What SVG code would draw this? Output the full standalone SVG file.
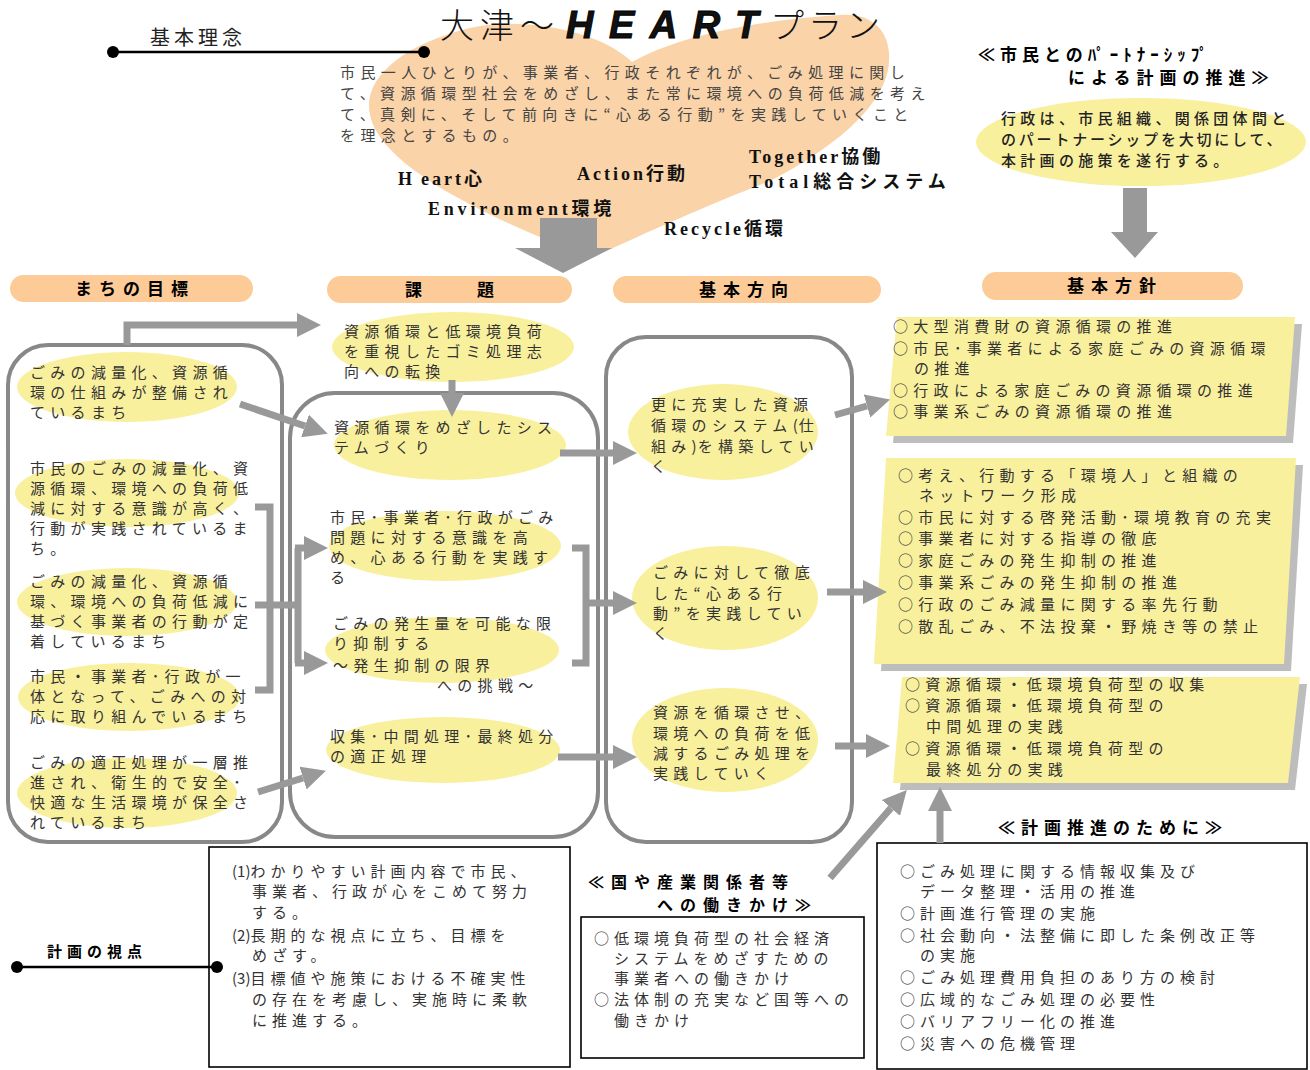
<svg xmlns="http://www.w3.org/2000/svg" width="1310" height="1070" viewBox="0 0 1310 1070">
<defs>
<marker id="ah" markerUnits="userSpaceOnUse" markerWidth="24" markerHeight="24" viewBox="0 0 24 24" refX="0" refY="12" orient="auto">
<path d="M0,0 L24,12 L0,24 Z" fill="#999"/>
</marker>
<style>
.t{font-family:'Noto Sans CJK JP',sans-serif;font-size:15px;letter-spacing:5.3px;fill:#333}
.s{font-family:'Noto Sans CJK JP',sans-serif;font-size:15px;letter-spacing:5px;fill:#333}
.b{font-family:'Noto Sans CJK JP',sans-serif;font-weight:700;font-size:17px;letter-spacing:6px;fill:#000}
.w{font-family:'Liberation Serif','Noto Sans CJK JP',serif;font-size:18px;font-weight:700;letter-spacing:3px;fill:#111}
.pill{fill:#FCCB98}
.ell{fill:#F9F09E}
.frame{fill:none;stroke:#888;stroke-width:4}
.c{fill:none;stroke:#999;stroke-width:7}
.ca{fill:none;stroke:#999;stroke-width:7;marker-end:url(#ah)}
.sh{fill:#BDBDBD}
.yb{fill:#F9F09E}
.box{fill:#fff;stroke:#000;stroke-width:1.6}
.ln{stroke:#000;stroke-width:2.5}
.blk{fill:#999}
.n{letter-spacing:1px}
</style>
</defs>
<rect width="1310" height="1070" fill="#fff"/>

<g id="heart">
<path d="M632,62 C600,30 520,16 470,28 C400,45 362,80 370,115 C380,165 480,215 592,258 C640,235 720,200 770,181 C830,150 880,110 888,70 C895,30 870,12 840,15 C760,20 680,35 632,62 Z" fill="#FAD3A8"/>
<text y="38" fill="#111"><tspan x="440" font-family="'Noto Sans CJK JP',sans-serif" font-size="34" font-weight="300" letter-spacing="6">大津～</tspan><tspan x="566" font-family="'Liberation Sans',sans-serif" font-size="38" font-weight="700" font-style="italic" letter-spacing="15.5" stroke="#000" stroke-width="1">HEART</tspan><tspan x="770" font-family="'Noto Sans CJK JP',sans-serif" font-size="34" font-weight="300" letter-spacing="4">プラン</tspan></text>
<text class="t" x="340" y="78" style="letter-spacing:5.4px;fill:#444">市民一人ひとりが、事業者、行政それぞれが、ごみ処理に関し</text>
<text class="t" x="340" y="99" style="letter-spacing:5.4px;fill:#444">て、資源循環型社会をめざし、また常に環境への負荷低減を考え</text>
<text class="t" x="340" y="120" style="letter-spacing:5.4px;fill:#444">て、真剣に、そして前向きに“心ある行動”を実践していくこと</text>
<text class="t" x="340" y="141" style="letter-spacing:5.4px;fill:#444">を理念とするもの。</text>
<text class="w" x="398" y="185"><tspan>H</tspan><tspan dx="6">eart心</tspan></text>
<text class="w" x="577" y="180">Action行動</text>
<text class="w" x="749" y="163">Together協働</text>
<text class="w" x="749" y="188" style="letter-spacing:5px">Total総合システム</text>
<text class="w" x="428" y="215" style="letter-spacing:3.8px">Environment環境</text>
<text class="w" x="664" y="235">Recycle循環</text>
<polygon class="blk" points="540,218 597,218 597,248 612,248 563,273 515,248 540,248"/>
</g>

<g id="kihon-rinen">
<text x="150" y="45" font-family="'Noto Sans CJK JP',sans-serif" font-size="20" letter-spacing="4" fill="#222">基本理念</text>
<line class="ln" x1="113" y1="52" x2="424" y2="52"/>
<circle cx="113" cy="52" r="6"/>
<circle cx="424" cy="52" r="6"/>
</g>

<g id="partnership">
<text class="b" x="978" y="61" style="font-size:17px;letter-spacing:5px">≪市民とのﾊﾟｰﾄﾅｰｼｯﾌﾟ</text>
<text class="b" x="1068" y="84" style="font-size:17px;letter-spacing:6px">による計画の推進≫</text>
<ellipse class="ell" cx="1141" cy="142" rx="165" ry="44"/>
<text class="t" x="1001" y="124" style="letter-spacing:4.3px;font-weight:500;fill:#222">行政は、市民組織、関係団体間と</text>
<text class="t" x="1001" y="145" style="letter-spacing:2.8px;font-weight:500;fill:#222">のパートナーシップを大切にして、</text>
<text class="t" x="1001" y="166" style="letter-spacing:4.3px;font-weight:500;fill:#222">本計画の施策を遂行する。</text>
<polygon class="blk" points="1123,188 1147,188 1147,232 1158,232 1135,258 1111,232 1123,232"/>
</g>

<g id="header-goal"><rect class="pill" x="10" y="275" width="243" height="27" rx="13.5"/><text class="b" x="75" y="295" style="letter-spacing:7px">まちの目標</text></g>
<g id="header-issue"><rect class="pill" x="327" y="276" width="245" height="27" rx="13.5"/><text class="b" x="405" y="296" style="letter-spacing:7px">課　　題</text></g>
<g id="header-direction"><rect class="pill" x="613" y="276" width="268" height="27" rx="13.5"/><text class="b" x="699" y="296" style="letter-spacing:7px">基本方向</text></g>
<g id="header-policy"><rect class="pill" x="982" y="272" width="261" height="28" rx="14"/><text class="b" x="1067" y="292" style="letter-spacing:7px">基本方針</text></g>

<g id="col-goal">
<rect class="frame" x="8" y="345" width="274" height="497" rx="40"/>
<ellipse class="ell" cx="127" cy="387" rx="110" ry="35"/>
<text class="t" x="30" y="378">ごみの減量化、資源循</text>
<text class="t" x="30" y="398">環の仕組みが整備され</text>
<text class="t" x="30" y="418">ているまち</text>
<ellipse class="ell" cx="127" cy="493" rx="112" ry="34"/>
<text class="t" x="30" y="474">市民のごみの減量化、資</text>
<text class="t" x="30" y="494">源循環、環境への負荷低</text>
<text class="t" x="30" y="514">減に対する意識が高く、</text>
<text class="t" x="30" y="534">行動が実践されているま</text>
<text class="t" x="30" y="554">ち。</text>
<ellipse class="ell" cx="127" cy="602" rx="110" ry="34"/>
<text class="t" x="30" y="587">ごみの減量化、資源循</text>
<text class="t" x="30" y="607">環、環境への負荷低減に</text>
<text class="t" x="30" y="627">基づく事業者の行動が定</text>
<text class="t" x="30" y="647">着しているまち</text>
<ellipse class="ell" cx="129" cy="697" rx="111" ry="34"/>
<text class="t" x="30" y="682">市民・事業者･行政が一</text>
<text class="t" x="30" y="702">体となって、ごみへの対</text>
<text class="t" x="30" y="722">応に取り組んでいるまち</text>
<ellipse class="ell" cx="127" cy="793" rx="110" ry="35"/>
<text class="t" x="30" y="768">ごみの適正処理が一層推</text>
<text class="t" x="30" y="788">進され、衛生的で安全･</text>
<text class="t" x="30" y="808">快適な生活環境が保全さ</text>
<text class="t" x="30" y="828">れているまち</text>
</g>

<g id="col-issue">
<ellipse class="ell" cx="453" cy="347" rx="121" ry="35"/>
<text class="t" x="344" y="337">資源循環と低環境負荷</text>
<text class="t" x="344" y="357">を重視したゴミ処理志</text>
<text class="t" x="344" y="377">向への転換</text>
<rect class="frame" x="290" y="393" width="308" height="444" rx="45"/>
<ellipse class="ell" cx="450" cy="445" rx="116" ry="35"/>
<text class="t" x="334" y="433">資源循環をめざしたシス</text>
<text class="t" x="334" y="453">テムづくり</text>
<ellipse class="ell" cx="445" cy="546" rx="116" ry="35"/>
<text class="t" x="330" y="523">市民･事業者･行政がごみ</text>
<text class="t" x="330" y="543">問題に対する意識を高</text>
<text class="t" x="330" y="563">め、心ある行動を実践す</text>
<text class="t" x="330" y="583">る</text>
<ellipse class="ell" cx="442" cy="650" rx="117" ry="33"/>
<text class="t" x="333" y="629">ごみの発生量を可能な限</text>
<text class="t" x="333" y="649">り抑制する</text>
<text class="t" x="333" y="671">～発生抑制の限界</text>
<text class="t" x="437" y="691">への挑戦～</text>
<ellipse class="ell" cx="443" cy="750" rx="117" ry="33"/>
<text class="t" x="330" y="742">収集･中間処理･最終処分</text>
<text class="t" x="330" y="762">の適正処理</text>
</g>

<g id="col-direction">
<rect class="frame" x="606" y="337" width="246" height="505" rx="40"/>
<ellipse class="ell" cx="723" cy="432" rx="95" ry="48"/>
<text class="t" x="651" y="410">更に充実した資源</text>
<text class="t" x="651" y="431">循環のシステム<tspan class="n">(</tspan>仕</text>
<text class="t" x="651" y="452">組み<tspan class="n">)</tspan>を構築してい</text>
<text class="t" x="651" y="472">く</text>
<ellipse class="ell" cx="725" cy="598" rx="93" ry="52"/>
<text class="t" x="653" y="578">ごみに対して徹底</text>
<text class="t" x="653" y="599">した“心ある行</text>
<text class="t" x="653" y="619">動”を実践してい</text>
<text class="t" x="653" y="639">く</text>
<ellipse class="ell" cx="725" cy="740" rx="93" ry="52"/>
<text class="t" x="653" y="718">資源を循環させ、</text>
<text class="t" x="653" y="739">環境への負荷を低</text>
<text class="t" x="653" y="759">減するごみ処理を</text>
<text class="t" x="653" y="779">実践していく</text>
</g>

<g id="policy-1">
<polygon class="sh" points="904,324 1302,324 1293,443 893,443"/>
<polygon class="yb" points="897,317 1295,317 1286,436 886,436"/>
<text class="t" x="893" y="332">○大型消費財の資源循環の推進</text>
<text class="t" x="893" y="354">○市民･事業者による家庭ごみの資源循環</text>
<text class="t" x="914" y="374">の推進</text>
<text class="t" x="893" y="396">○行政による家庭ごみの資源循環の推進</text>
<text class="t" x="893" y="417">○事業系ごみの資源循環の推進</text>
</g>

<g id="policy-2">
<polygon class="sh" points="893,465 1303,465 1291,671 881,671"/>
<polygon class="yb" points="886,458 1296,458 1284,664 874,664"/>
<text class="t" x="898" y="481">○考え、行動する「環境人」と組織の</text>
<text class="t" x="919" y="501">ネットワーク形成</text>
<text class="t" x="898" y="523">○市民に対する啓発活動･環境教育の充実</text>
<text class="t" x="898" y="544">○事業者に対する指導の徹底</text>
<text class="t" x="898" y="566">○家庭ごみの発生抑制の推進</text>
<text class="t" x="898" y="588">○事業系ごみの発生抑制の推進</text>
<text class="t" x="898" y="610">○行政のごみ減量に関する率先行動</text>
<text class="t" x="898" y="632">○散乱ごみ、不法投棄・野焼き等の禁止</text>
</g>

<g id="policy-3">
<polygon class="sh" points="909,684 1307,684 1295,790 900,790"/>
<polygon class="yb" points="902,677 1300,677 1288,783 893,783"/>
<text class="t" x="905" y="690">○資源循環・低環境負荷型の収集</text>
<text class="t" x="905" y="711">○資源循環・低環境負荷型の</text>
<text class="t" x="926" y="732">中間処理の実践</text>
<text class="t" x="905" y="754">○資源循環・低環境負荷型の</text>
<text class="t" x="926" y="775">最終処分の実践</text>
</g>

<g id="viewpoint">
<text class="b" x="47" y="957" style="font-size:15px;letter-spacing:5px">計画の視点</text>
<rect class="box" x="209" y="847" width="361" height="220"/>
<line class="ln" x1="17" y1="967" x2="217" y2="967"/>
<circle cx="17" cy="967" r="6"/>
<circle cx="217" cy="967" r="6"/>
<text class="s" x="232" y="877"><tspan style="letter-spacing:0">(1)</tspan>わかりやすい計画内容で市民、</text>
<text class="s" x="252" y="897">事業者、行政が心をこめて努力</text>
<text class="s" x="252" y="918">する。</text>
<text class="s" x="232" y="941"><tspan style="letter-spacing:0">(2)</tspan>長期的な視点に立ち、目標を</text>
<text class="s" x="252" y="961">めざす。</text>
<text class="s" x="232" y="984"><tspan style="letter-spacing:0">(3)</tspan>目標値や施策における不確実性</text>
<text class="s" x="252" y="1005">の存在を考慮し、実施時に柔軟</text>
<text class="s" x="252" y="1026">に推進する。</text>
</g>

<g id="outreach">
<text class="b" x="588" y="888" style="font-size:16px;letter-spacing:7px">≪国や産業関係者等</text>
<text class="b" x="657" y="911" style="font-size:16px;letter-spacing:7px">への働きかけ≫</text>
<rect class="box" x="581" y="917" width="283" height="141"/>
<text class="s" x="594" y="944">○低環境負荷型の社会経済</text>
<text class="s" x="614" y="964">システムをめざすための</text>
<text class="s" x="614" y="984">事業者への働きかけ</text>
<text class="s" x="594" y="1005">○法体制の充実など国等への</text>
<text class="s" x="614" y="1026">働きかけ</text>
</g>

<g id="promotion">
<text class="b" x="998" y="834">≪計画推進のために≫</text>
<rect class="box" x="877" y="843" width="430" height="226"/>
<text class="s" x="900" y="877">○ごみ処理に関する情報収集及び</text>
<text class="s" x="920" y="897">データ整理・活用の推進</text>
<text class="s" x="900" y="919">○計画進行管理の実施</text>
<text class="s" x="900" y="941">○社会動向・法整備に即した条例改正等</text>
<text class="s" x="920" y="961">の実施</text>
<text class="s" x="900" y="983">○ごみ処理費用負担のあり方の検討</text>
<text class="s" x="900" y="1005">○広域的なごみ処理の必要性</text>
<text class="s" x="900" y="1027">○バリアフリー化の推進</text>
<text class="s" x="900" y="1049">○災害への危機管理</text>
</g>

<g id="connectors">
<path class="ca" d="M127,345 V325 H297"/>
<path class="ca" d="M452,380 V393"/>
<path class="ca" d="M240,404 L305,426"/>
<path class="ca" d="M258,792 L303,778"/>
<path class="c" d="M255,507 H270 V690 H255 M255,605 H298 M298,548 V663"/>
<path class="ca" d="M295,548 H304"/>
<path class="ca" d="M295,663 H304"/>
<path class="c" d="M572,548 H586 V663 H572"/>
<path class="ca" d="M586,603 H613"/>
<path class="ca" d="M560,453 H613"/>
<path class="ca" d="M558,757 H613"/>
<path class="ca" d="M835,415 L867,406"/>
<path class="ca" d="M827,592 H863"/>
<path class="ca" d="M835,746 H866"/>
<path class="ca" d="M830,878 L891,808"/>
<path class="ca" d="M940,843 V811"/>
</g>
</svg>
